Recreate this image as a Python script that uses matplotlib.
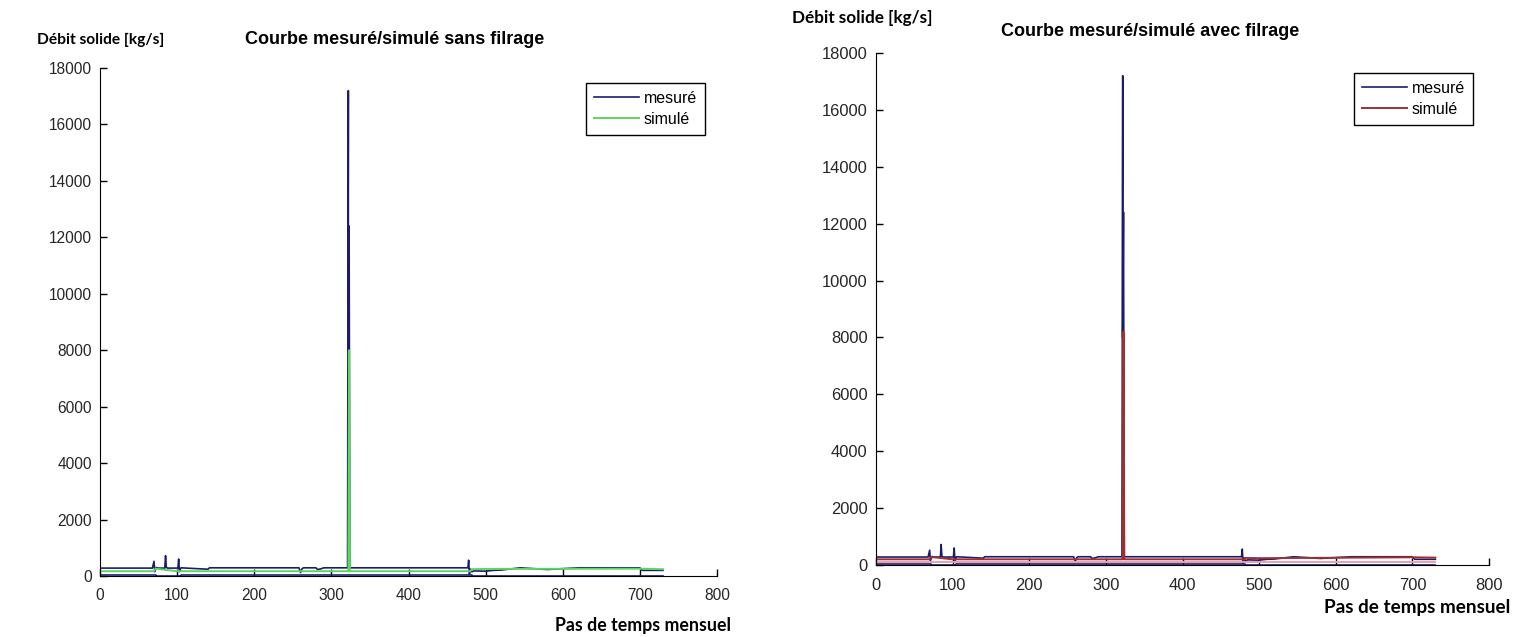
import numpy as np
import matplotlib
matplotlib.use("Agg")
import matplotlib.pyplot as plt

# Polices : Arial pour les graduations, Calibri-like pour les libellés
tick_font = ['Liberation Sans Narrow', 'Liberation Sans', 'DejaVu Sans']
title_font = ['Liberation Sans', 'DejaVu Sans']
label_font = ['Lato', 'DejaVu Sans']

# --- données (pas de temps mensuel, débit solide kg/s) ---
# débit mesuré (niveau haut)
mes_x = [1, 68, 70, 71, 73, 75, 84, 85, 86, 88, 101, 102, 103, 105, 140, 142,
         258, 260, 262, 264, 280, 282, 286, 290, 321, 322, 322, 323, 324,
         477, 478, 479, 480, 482, 485, 500, 510, 520, 545, 580, 620, 700, 703, 730]
mes_y = [280, 280, 520, 150, 300, 280, 280, 720, 300, 280, 280, 600, 150, 290, 240, 290,
         290, 120, 260, 290, 290, 230, 250, 290, 290, 17200, 8000, 12400, 290,
         290, 560, 60, 250, 150, 180, 170, 200, 210, 290, 230, 290, 290, 200, 200]

# débit mesuré, deuxième colonne (niveau bas)
mes2_x = [1, 70, 72, 103, 105, 480, 482, 730]
mes2_y = [40, 40, 0, 0, 40, 40, 0, 0]

# débit simulé sans filtrage
sim_x = [1, 70, 72, 100, 104, 321, 322, 323, 324, 326, 480, 482, 500, 700, 730]
sim_y = [170, 170, 260, 170, 170, 170, 170, 8000, 170, 170, 170, 240, 250, 260, 240]

# débit simulé avec filtrage
simf_x = [1, 70, 72, 100, 104, 321, 322, 323, 324, 326, 480, 482, 500, 700, 730]
simf_y = [200, 200, 280, 200, 200, 200, 200, 8200, 200, 200, 200, 250, 240, 270, 260]

# deuxième colonne filtrée (trait rose)
simf2_x = [1, 730]
simf2_y = [110, 110]

x_ticks = [0, 100, 200, 300, 400, 500, 600, 700, 800]
y_ticks = [0, 2000, 4000, 6000, 8000, 10000, 12000, 14000, 16000, 18000]

col_mes = '#1c1c6e'
col_sim = '#5cd65c'
col_simf = '#a03030'
col_simf2 = '#e8a0b0'

W, H = 1522, 637
fig = plt.figure(figsize=(W / 100, H / 100), dpi=100)


def fx(px):
    return px / W


def fy(py):
    return 1 - py / H


def panel(rect, sim_lines, title, title_xy, ylab_xy, xlab_xy, leg_anchor,
          k=1.0, ylab_size=11.2):
    ax = fig.add_axes(rect)
    ax.plot(mes2_x, mes2_y, color=col_mes, lw=1.2, drawstyle='steps-post')
    ax.plot(mes_x, mes_y, color=col_mes, lw=1.2, label='mesuré')
    for x, y, c, lab in sim_lines:
        ax.plot(x, y, color=c, lw=1.4, label=lab)
    ax.set_xlim(0, 800)
    ax.set_ylim(0, 18000)
    ax.set_xticks(x_ticks)
    ax.set_yticks(y_ticks)
    ax.spines['top'].set_visible(False)
    ax.spines['right'].set_visible(False)
    ax.tick_params(direction='in', length=5, width=1, labelsize=11.2 * k, pad=6)
    ax.tick_params(axis='x', pad=9)
    for lbl in ax.get_xticklabels() + ax.get_yticklabels():
        lbl.set_family(tick_font)
        lbl.set_color('#262626')
    h, l = ax.get_legend_handles_labels()
    order = [l.index('mesuré'), l.index('simulé')]
    leg = ax.legend([h[i] for i in order], [l[i] for i in order],
                    loc='upper right', bbox_to_anchor=leg_anchor,
                    bbox_transform=fig.transFigure, fancybox=False,
                    edgecolor='black', framealpha=1, handlelength=2.8,
                    prop={'family': tick_font, 'size': 11.5}, borderpad=0.5,
                    labelspacing=0.35, handletextpad=0.3, borderaxespad=0)
    leg.get_frame().set_linewidth(1.0)
    fig.text(fx(title_xy[0]), fy(title_xy[1]), title, ha='center', va='center',
             family=title_font, fontsize=13, fontweight='bold')
    fig.text(fx(ylab_xy[0]), fy(ylab_xy[1]), 'Débit solide [kg/s]', ha='left',
             va='center', family=label_font, fontsize=ylab_size, fontweight='bold')
    fig.text(fx(xlab_xy[0]), fy(xlab_xy[1]), 'Pas de temps mensuel', ha='right',
             va='center', family=label_font, fontsize=12.8 * k, fontweight='bold')
    return ax


panel([fx(100), fy(576), fx(717) - fx(100), fy(68) - fy(576)],
      [(sim_x, sim_y, col_sim, 'simulé')],
      'Courbe mesuré/simulé sans filrage', (395, 40), (37, 40), (731, 625),
      (fx(705), fy(83)))

panel([fx(876), fy(565), fx(1489) - fx(876), fy(53) - fy(565)],
      [(simf2_x, simf2_y, col_simf2, None), (simf_x, simf_y, col_simf, 'simulé')],
      'Courbe mesuré/simulé avec filrage', (1150, 31), (792, 18), (1510, 608),
      (fx(1473), fy(73)), k=1.06, ylab_size=12.3)

fig.savefig('out.png', dpi=100, facecolor='white')
